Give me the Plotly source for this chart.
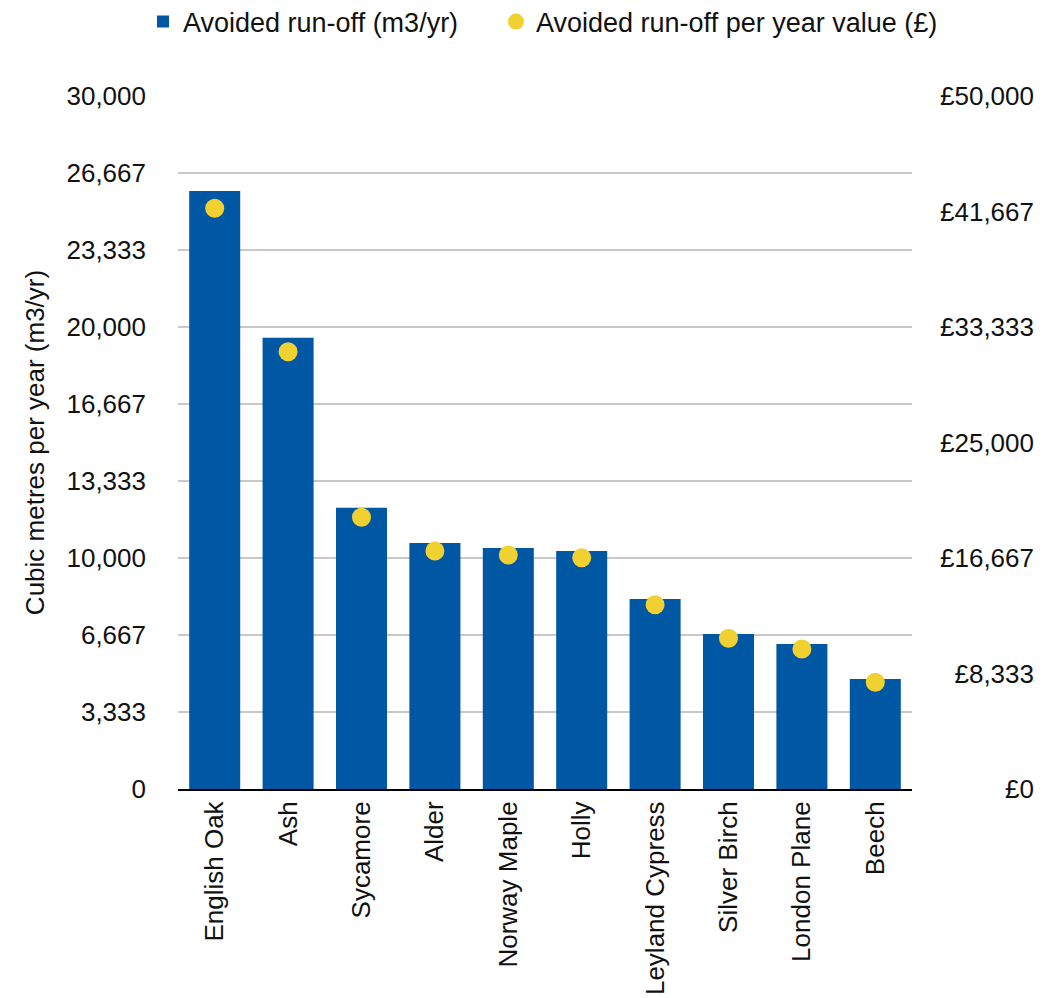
import plotly.graph_objects as go

trees = ["English Oak", "Ash", "Sycamore", "Alder", "Norway Maple", "Holly",
         "Leyland Cypress", "Silver Birch", "London Plane", "Beech"]
runoff_m3 = [25890, 19540, 12170, 10650, 10430, 10300, 8225, 6710, 6280, 4760]
runoff_value_gbp = [41900, 31550, 19600, 17170, 16880, 16690, 13300, 10870, 10100, 7700]

left_ticks = [0, 10000/3, 20000/3, 10000, 40000/3, 50000/3, 20000, 70000/3, 80000/3, 30000]
left_labels = ["0", "3,333", "6,667", "10,000", "13,333", "16,667", "20,000", "23,333", "26,667", "30,000"]
right_ticks = [0, 50000/6, 100000/6, 25000, 200000/6, 250000/6, 50000]
right_labels = ["£0", "£8,333", "£16,667", "£25,000", "£33,333", "£41,667", "£50,000"]

# right-align the right-hand labels using figure spaces (digit width) and
# punctuation spaces (comma width)
FIG_SP, PUNC_SP = "\u2007", "\u2008"
def pad_right_label(s, ref="£50,000"):
    n_digit_like = lambda t: sum(1 for c in t if c != ",")
    n_comma = lambda t: t.count(",")
    return FIG_SP * (n_digit_like(ref) - n_digit_like(s)) + PUNC_SP * (n_comma(ref) - n_comma(s)) + s
right_text = [pad_right_label(s) for s in right_labels]

FONT = "Liberation Sans, Arial, Helvetica, sans-serif"
BLUE = "#0057A4"
YELLOW = "#F1D132"

fig = go.Figure()
fig.add_trace(go.Bar(
    x=trees, y=runoff_m3, name="Avoided run-off (m3/yr)",
    marker=dict(color=BLUE, line=dict(width=0)), yaxis="y", legend="legend",
))
fig.add_trace(go.Scatter(
    x=trees, y=runoff_value_gbp, name="Avoided run-off per year value (£)",
    mode="markers", marker=dict(color=YELLOW, size=19, line=dict(width=0)),
    yaxis="y2", legend="legend2",
))

# page body has an 8px margin: size the figure so the plot lands where the reference has it
OFF = 8
W, H = 1055 - OFF, 998 - OFF
ml, mt = 178 - OFF, 96 - OFF
mr = W - (912 - OFF)
mb = H - (789 - OFF)
pw, ph = W - ml - mr, H - mt - mb
leg_common = dict(orientation="h", xref="paper", xanchor="left",
                  yref="paper", y=1 + (96 - 22) / ph, yanchor="middle",
                  font=dict(size=27))
fig.update_layout(
    width=W, height=H,
    margin=dict(l=ml, r=mr, t=mt, b=mb, autoexpand=False),
    paper_bgcolor="white", plot_bgcolor="white",
    font=dict(family=FONT, size=26, color="#111111"),
    bargap=0.305,
    showlegend=True,
    legend=dict(x=(143 - 178) / pw, **leg_common),
    legend2=dict(x=(496 - 178) / pw, **leg_common),
    xaxis=dict(range=[-0.5, 9.5], showgrid=False, showline=True,
               linecolor="#000000", linewidth=2, tickangle=-90, ticks="",
               tickfont=dict(size=26), ticklabelstandoff=0, automargin=False),
    yaxis=dict(range=[0, 30000], tickvals=left_ticks, ticktext=left_labels,
               showgrid=True, gridcolor="#c8c8c8", gridwidth=1.5, zeroline=False,
               showline=False, ticks="", tickfont=dict(size=26),
               ticklabelstandoff=31, automargin=False,
               title=dict(text="Cubic metres per year (m3/yr)", font=dict(size=26),
                          standoff=14)),
    yaxis2=dict(range=[0, 50000], tickvals=right_ticks, ticktext=right_text,
                overlaying="y", side="right", anchor="x",
                showgrid=False, zeroline=False, showline=False, ticks="",
                tickfont=dict(size=26), ticklabelstandoff=27, automargin=False),
)
fig.write_html("out.html")
